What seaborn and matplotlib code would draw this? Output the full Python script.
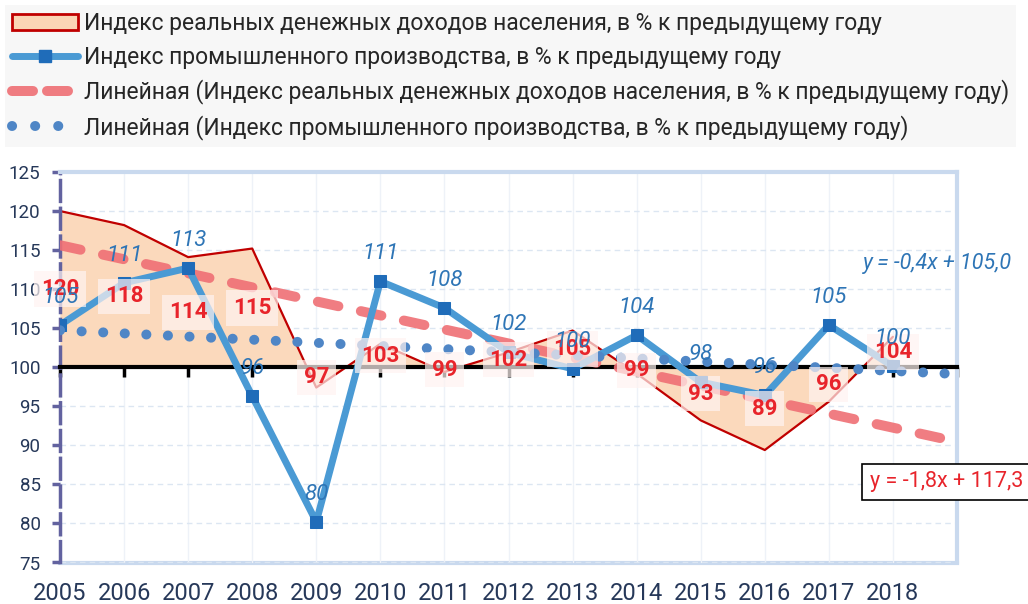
import numpy as np
import seaborn as sns
import matplotlib.pyplot as plt
from matplotlib.lines import Line2D
from matplotlib.patches import Patch

# values
years = [str(y) for y in range(2005, 2019)]
income = [120.0, 118.2, 114.1, 115.2, 97.4, 103.0, 99.4, 101.9, 104.7, 99.2, 93.2, 89.4, 95.6, 103.9]
industry = [105.4, 110.8, 112.7, 96.3, 80.2, 111.0, 107.6, 101.9, 99.8, 104.1, 98.1, 96.4, 105.4, 100.1]
eq_income = "y = -1,8x + 117,3"
eq_industry = "y = -0,4x + 105,0"
legend_labels = [
    "Индекс реальных денежных доходов населения, в % к предыдущему году",
    "Индекс промышленного производства, в % к предыдущему году",
    "Линейная (Индекс реальных денежных доходов населения, в % к предыдущему году)",
    "Линейная (Индекс промышленного производства, в % к предыдущему году)",
]

sns.set_theme(style="white")
plt.rcParams["font.family"] = ["Roboto", "DejaVu Sans"]

RED_DARK = "#C00000"
RED_TXT = "#E8242B"
PEACH = "#FBD9BC"
BLUE_LINE = "#4A9AD4"
BLUE_MARK = "#1F6CB9"
BLUE_TXT = "#2E75B6"
TREND_RED = "#EF6F74"
TREND_BLUE = "#4F86C6"
LIGHT = "#C9D9EE"
NAVY = "#263859"

x = np.arange(len(years))

fig = plt.figure(figsize=(10.28, 6.04), dpi=100)
ax = fig.add_axes([60 / 1028, 41.5 / 604, 897 / 1028, 390.5 / 604])
ax.set_xlim(0, 14)
ax.set_ylim(75, 125)

# area between income line and the 100 axis
ax.fill_between(x, income, 100, color=PEACH, lw=0, zorder=1)
ax.plot(x, income, color=RED_DARK, lw=1.6, zorder=2)

# trend lines (linear fits)
sns.regplot(x=x, y=income, scatter=False, ci=None, truncate=False, ax=ax,
            line_kws=dict(color=TREND_RED, lw=7.2, dashes=(2.1, 2.3),
                          dash_capstyle="round", alpha=0.9, zorder=3))

sns.lineplot(x=x, y=industry, ax=ax, color=BLUE_LINE, lw=5, marker="s",
             markersize=9, markerfacecolor=BLUE_MARK, markeredgecolor=BLUE_MARK,
             zorder=4)

sns.regplot(x=x, y=industry, scatter=False, ci=None, truncate=False, ax=ax,
            line_kws=dict(color=TREND_BLUE, lw=7.2, dashes=(0.01, 2.15),
                          dash_capstyle="round", zorder=5))
ax.set_xlim(0, 14)
ax.set_ylim(75, 125)

# data labels
for i, v in enumerate(income):
    ax.text(i, (v + 100) / 2, f"{v:.0f}", ha="center", va="center",
            color=RED_TXT, fontsize=16, fontweight="bold", zorder=6,
            bbox=dict(boxstyle="square,pad=0.3", fc="#FFF3F1", ec="none", alpha=0.7))
for i, v in enumerate(industry):
    ax.annotate(f"{v:.0f}", (i, v), xytext=(0, 20), textcoords="offset points",
                ha="center", va="center", color=BLUE_TXT, fontsize=16,
                fontstyle="italic", zorder=7)

# axes styling
ax.set_xticks(np.arange(15))
ax.tick_params(axis="x", labelbottom=False, direction="out", length=7,
               width=2.5, color="black", bottom=True)
ax.set_yticks(np.arange(75, 126, 5))
ax.tick_params(axis="y", direction="out", length=6, width=2.5, color="#62629F",
               labelsize=13.5, labelcolor=NAVY, pad=8, left=True)
ax.grid(axis="y", color="#DCE6F2", lw=1, ls=(0, (4, 3)))
ax.grid(axis="x", color="#EEF2F8", lw=1)

ax.spines["bottom"].set_position(("data", 100))
ax.spines["bottom"].set_color("black")
ax.spines["bottom"].set_linewidth(3)
ax.spines["left"].set_color("#62629F")
ax.spines["left"].set_linewidth(2.5)
ax.spines["left"].set_linestyle((0, (6, 2)))
for side in ["top", "right"]:
    ax.spines[side].set_color(LIGHT)
    ax.spines[side].set_linewidth(3)

sec = ax.secondary_xaxis(0)
sec.set_xticks(x, labels=years)
sec.tick_params(length=0, pad=14, labelsize=17, labelcolor=NAVY)
sec.spines["bottom"].set_color(LIGHT)
sec.spines["bottom"].set_linewidth(3)

# trend equations
fig.text(863 / 1028, 1 - 264 / 604, eq_industry, ha="left", va="center",
         color=BLUE_TXT, fontsize=15.5, fontstyle="italic")
fig.text(870 / 1028, 1 - 482 / 604, eq_income, ha="left", va="center",
         color=RED_TXT, fontsize=15.5,
         bbox=dict(boxstyle="square,pad=0.35", fc="white", ec="black", lw=1.2))

# legend
handles = [
    Patch(facecolor="#FBD5B5", edgecolor=RED_DARK, lw=2),
    Line2D([], [], color=BLUE_LINE, lw=5, marker="s", markersize=9,
           markerfacecolor=BLUE_MARK, markeredgecolor=BLUE_MARK),
    Line2D([], [], color=TREND_RED, lw=7.2, dashes=(2.1, 1.4),
           dash_capstyle="round", alpha=0.9),
    Line2D([], [], color=TREND_BLUE, lw=7.2, linestyle=(0, (0.01, 2.3)),
           dash_capstyle="round"),
]
fig.legend(handles, legend_labels, loc="upper left",
           bbox_to_anchor=(5 / 1028, 1 - 5 / 604), frameon=True,
           facecolor="#F6F6F6", edgecolor="none", fancybox=False,
           fontsize=16.5, handlelength=2.9, handletextpad=0.25,
           labelspacing=0.47, borderpad=0.3, borderaxespad=0)

fig.savefig("out.png", dpi=100)
